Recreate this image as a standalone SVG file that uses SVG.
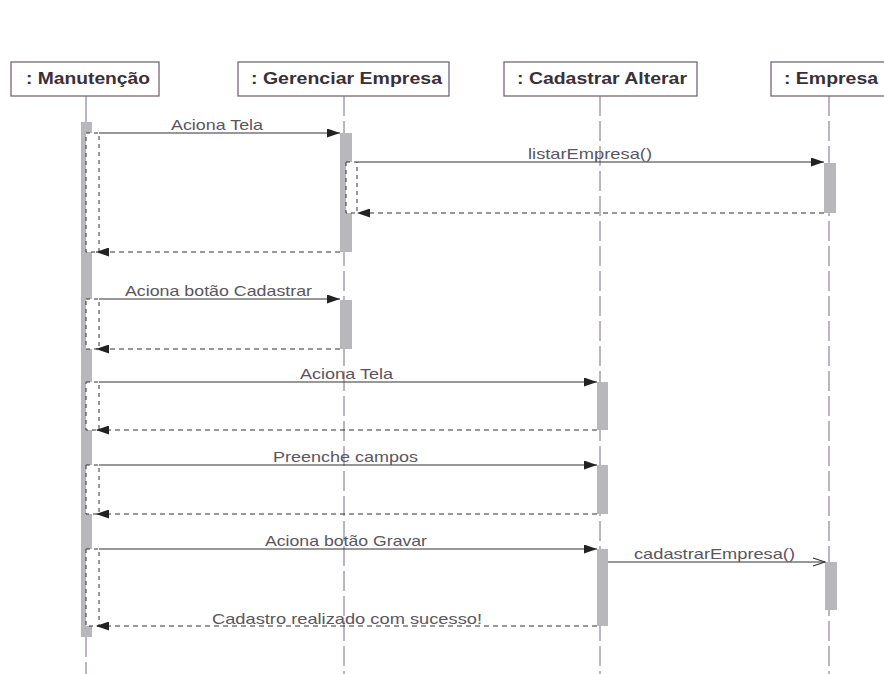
<svg xmlns="http://www.w3.org/2000/svg" width="884" height="674" viewBox="0 0 884 674">
<defs>
<style>
.box{fill:#fff;stroke:#6a5a6a;stroke-width:1.2}
.hd{font-family:"Liberation Sans",Arial,sans-serif;font-weight:bold;font-size:17px;fill:#3a3038}
.lbl{font-family:"Liberation Sans",Arial,sans-serif;font-size:15px;fill:#5a5560}
.life{stroke:#7a6a80;stroke-width:1;stroke-dasharray:20 5;fill:none}
.bar{fill:#b8b8bc;stroke:none}
.nest{fill:#fff;stroke:#333;stroke-width:1;stroke-dasharray:4 4}
.msg{stroke:#333;stroke-width:1.2;fill:none}
.ret{stroke:#333;stroke-width:1.2;stroke-dasharray:5 4;fill:none}
</style>
<marker id="fa" markerUnits="userSpaceOnUse" markerWidth="13" markerHeight="9" refX="13" refY="4.5" orient="auto"><path d="M0,0 L13,4.5 L0,9 z" fill="#222"/></marker>
<marker id="oa" markerUnits="userSpaceOnUse" markerWidth="14" markerHeight="10" refX="13" refY="5" orient="auto"><path d="M1,1 L13,5 L1,9" fill="none" stroke="#333" stroke-width="1.2"/></marker>
</defs>
<rect width="884" height="674" fill="#fff"/>

<g id="lifelines">
<line x1="86" y1="96" x2="86" y2="122" stroke="#7a6a80" stroke-width="1"/>
<line class="life" x1="86" y1="637" x2="86" y2="674"/>
<line class="life" x1="344" y1="96" x2="344" y2="674"/>
<line class="life" x1="600" y1="96" x2="600" y2="674"/>
<line class="life" x1="829" y1="96" x2="829" y2="674"/>
</g>

<g id="manutencao">
<rect class="box" x="11" y="62" width="148" height="34"/>
<text class="hd" x="26" y="84" textLength="124" lengthAdjust="spacingAndGlyphs">: Manutenção</text>
<rect class="bar" x="81" y="122" width="11" height="515"/>
</g>

<g id="gerenciar">
<rect class="box" x="238" y="62" width="211" height="34"/>
<text class="hd" x="251" y="84" textLength="191" lengthAdjust="spacingAndGlyphs">: Gerenciar Empresa</text>
<rect class="bar" x="340" y="133" width="12" height="119"/>
<rect class="bar" x="340" y="300" width="12" height="49"/>
</g>

<g id="cadastrar">
<rect class="box" x="504" y="62" width="193" height="34"/>
<text class="hd" x="517" y="84" textLength="170" lengthAdjust="spacingAndGlyphs">: Cadastrar Alterar</text>
<rect class="bar" x="597" y="382" width="11" height="48"/>
<rect class="bar" x="597" y="465" width="11" height="49"/>
<rect class="bar" x="597" y="549" width="11" height="77"/>
</g>

<g id="empresa">
<rect class="box" x="771" y="62" width="120" height="34"/>
<text class="hd" x="784" y="84" textLength="94" lengthAdjust="spacingAndGlyphs">: Empresa</text>
<rect class="bar" x="824" y="163" width="12" height="50"/>
<rect class="bar" x="825" y="562" width="12" height="48"/>
</g>

<g id="connectors">
<rect class="nest" x="86" y="133" width="13" height="119"/>
<rect class="nest" x="346" y="162" width="11" height="51"/>
<rect class="nest" x="86" y="299" width="13" height="50"/>
<rect class="nest" x="86" y="382" width="13" height="48"/>
<rect class="nest" x="86" y="465" width="13" height="49"/>
<rect class="nest" x="86" y="549" width="13" height="77"/>

<line class="msg" x1="99" y1="133" x2="340" y2="133" marker-end="url(#fa)"/>
<text class="lbl" x="171" y="130" textLength="92" lengthAdjust="spacingAndGlyphs">Aciona Tela</text>
<line class="msg" x1="357" y1="162" x2="824" y2="162" marker-end="url(#fa)"/>
<text class="lbl" x="528" y="159" textLength="124" lengthAdjust="spacingAndGlyphs">listarEmpresa()</text>
<line class="ret" x1="824" y1="213" x2="357" y2="213" marker-end="url(#fa)"/>
<line class="ret" x1="340" y1="252" x2="96" y2="252" marker-end="url(#fa)"/>

<line class="msg" x1="99" y1="299" x2="340" y2="299" marker-end="url(#fa)"/>
<text class="lbl" x="125" y="296" textLength="187" lengthAdjust="spacingAndGlyphs">Aciona botão Cadastrar</text>
<line class="ret" x1="340" y1="349" x2="96" y2="349" marker-end="url(#fa)"/>

<line class="msg" x1="99" y1="382" x2="597" y2="382" marker-end="url(#fa)"/>
<text class="lbl" x="300" y="379" textLength="93" lengthAdjust="spacingAndGlyphs">Aciona Tela</text>
<line class="ret" x1="597" y1="430" x2="96" y2="430" marker-end="url(#fa)"/>

<line class="msg" x1="99" y1="465" x2="597" y2="465" marker-end="url(#fa)"/>
<text class="lbl" x="273" y="462" textLength="145" lengthAdjust="spacingAndGlyphs">Preenche campos</text>
<line class="ret" x1="597" y1="514" x2="96" y2="514" marker-end="url(#fa)"/>

<line class="msg" x1="99" y1="549" x2="597" y2="549" marker-end="url(#fa)"/>
<text class="lbl" x="265" y="546" textLength="162" lengthAdjust="spacingAndGlyphs">Aciona botão Gravar</text>
<line class="msg" x1="608" y1="562" x2="825" y2="562" marker-end="url(#oa)"/>
<text class="lbl" x="634" y="559" textLength="161" lengthAdjust="spacingAndGlyphs">cadastrarEmpresa()</text>
<line class="ret" x1="597" y1="626" x2="96" y2="626" marker-end="url(#fa)"/>
<text class="lbl" x="212" y="624" textLength="270" lengthAdjust="spacingAndGlyphs">Cadastro realizado com sucesso!</text>
</g>
</svg>
